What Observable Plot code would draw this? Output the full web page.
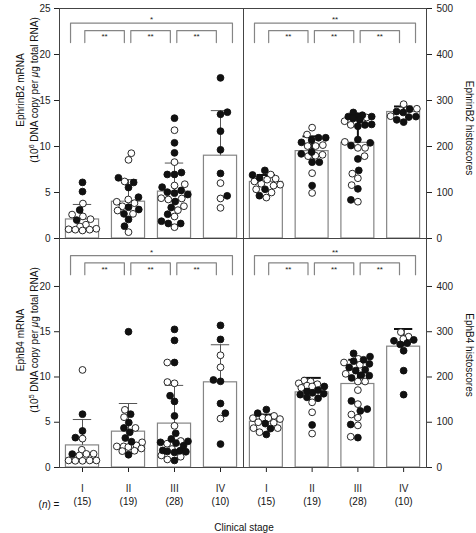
<!DOCTYPE html>
<html><head><meta charset="utf-8">
<script src="https://cdn.jsdelivr.net/npm/d3@7"></script>
<script src="https://cdn.jsdelivr.net/npm/@observablehq/plot@0.6"></script>
<style>
html,body{margin:0;padding:0;background:#fff;}
#chart{position:relative;width:476px;height:533px;font-family:"Liberation Sans",Arial,Helvetica,sans-serif;}
#chart svg{position:absolute;left:0;top:0;overflow:visible;background:transparent;}
</style></head><body><div id="chart"></div>
<script>
// ---------------- data ----------------
const stages = ["I", "II", "III", "IV"];
const counts = [15, 19, 28, 10];
const pairs = [[1, 4], [1, 2], [2, 3], [3, 4]];

// EphrinB2 mRNA (10^6 DNA copy per µg total RNA)
const b2MrnaMean = [2.07, 4.0, 5.1, 9.0];
const b2MrnaErrTop = [3.7, 6.4, 8.2, 13.9];
const b2MrnaFilled = [
  [6.1, 5.1, 3.1, 2.0],
  [6.6, 6.09, 5.54, 4.49, 3.4, 3.15, 2.68, 2.07, 1.34],
  [13.08, 10.4, 9.31, 7.17, 6.96, 6.96, 5.58, 5.22, 5.04, 4.93, 4.78, 4.02, 3.37, 2.64, 1.88, 1.63, 1.63],
  [17.46, 13.73, 13.5, 11.67, 9.64, 7.07, 4.64]
];
const b2MrnaOpen = [
  [3.8, 2.6, 2.4, 2.1, 1.5, 1.3, 1.06, 1.0, 0.96, 0.96, 0.87],
  [9.27, 8.55, 6.2, 4.24, 3.99, 3.84, 3.5, 3.04, 2.68, 0.69],
  [11.77, 8.3, 5.9, 5.76, 4.38, 4.35, 4.24, 3.51, 3.08, 2.39, 1.23],
  [6.02, 4.35, 3.33]
];
const b2MrnaSig = ["*", "**", "**", "**"];

// EphrinB2 histoscores
const b2HistoMean = [123, 190, 208, 275];
const b2HistoErrTop = [138, 222, 266, 287];
const b2HistoFilled = [
  [148, 138, 132, 107, 93],
  [219, 219, 214, 209, 188, 184, 166, 166, 115],
  [274, 268, 266, 265, 265, 261, 258, 248, 247, 244, 215, 208, 202, 173, 148, 108, 84],
  [281, 276, 274, 265, 264, 258, 253]
];
const b2HistoOpen = [
  [139, 130, 128, 124, 119, 117, 115, 107, 100, 89],
  [241, 226, 203, 201, 201, 182, 180, 179, 142, 99],
  [263, 255, 247, 210, 197, 197, 179, 141, 131, 116, 80],
  [292, 282, 266]
];
const b2HistoSig = ["**", "**", "**", "**"];

// EphB4 mRNA (10^5 DNA copy per µg total RNA)
const b4MrnaMean = [2.44, 3.96, 4.85, 9.41];
const b4MrnaErrTop = [5.3, 7.07, 9.07, 13.56];
const b4MrnaFilled = [
  [5.89, 4.04, 3.3, 1.48],
  [15.0, 5.89, 4.96, 4.37, 3.89, 3.26, 2.85, 1.41],
  [15.26, 14.04, 11.6, 7.93, 7.3, 5.7, 3.78, 3.15, 2.89, 2.78, 2.7, 2.41, 1.89, 1.85, 1.78, 1.74, 1.67, 0.78],
  [15.7, 14.15, 9.67, 9.52, 7.07, 6.0, 2.59]
];
const b4MrnaOpen = [
  [10.78, 3.19, 1.96, 1.52, 1.5, 1.33, 0.78, 0.78, 0.78, 0.74, 0.74],
  [6.37, 5.56, 4.37, 2.78, 2.44, 2.33, 2.33, 2.26, 2.1, 1.85, 1.81],
  [11.6, 9.44, 9.3, 4.6, 2.93, 2.63, 2.04, 1.33, 1.19, 0.89],
  [12.4, 11.07, 5.41]
];
const b4MrnaSig = ["*", "**", "**", "**"];

// EphB4 histoscores
const b4HistoMean = [101, 166, 184.5, 267];
const b4HistoErrTop = [117, 198, 238, 306];
const b4HistoFilled = [
  [128, 120, 97, 86, 73],
  [179, 171, 168, 165, 163, 161, 155, 153, 94],
  [252, 245, 238, 235, 229, 221, 216, 214, 204, 203, 198, 147, 129, 125, 95, 66],
  [282, 280, 275, 272, 258, 214, 161]
];
const b4HistoOpen = [
  [114, 110, 109, 109, 107, 100, 99, 87, 87, 78],
  [192, 190, 186, 184, 181, 179, 176, 144, 122, 75],
  [240, 232, 227, 207, 190, 190, 171, 140, 117, 110, 93, 68],
  [299, 289, 284]
];
const b4HistoSig = ["**", "**", "**", "**"];

// ---------------- layout helpers ----------------
const W = 476, H = 533, R = 3.4;
const FONT = '"Liberation Sans", Arial, Helvetica, sans-serif';

// simple beeswarm: pixel offsets so dots of one stage do not overlap
function swarm(vals, pxY, r, maxHalf) {
  const order = d3.range(vals.length).sort((a, b) => vals[a] - vals[b]);
  const placed = [];
  const out = new Array(vals.length);
  let flip = 1;
  for (const i of order) {
    const y = vals[i] * pxY;
    let minD = 2 * r + 0.4, best = 0;
    while (true) {
      const near = placed.filter(p => Math.abs(p.y - y) < minD);
      const cands = [0];
      for (const p of near) {
        const dx = Math.sqrt(minD * minD - (p.y - y) ** 2);
        cands.push(p.x - dx - 0.01, p.x + dx + 0.01);
      }
      const ok = cands.filter(c => near.every(p => (p.x - c) ** 2 + (p.y - y) ** 2 >= minD * minD - 1e-6));
      ok.sort((a, b) => (Math.abs(a) - Math.abs(b)) || flip * (b - a));
      best = ok[0];
      if (Math.abs(best) <= maxHalf || minD < r) break;
      minD -= 0.5;
    }
    placed.push({x: best, y});
    out[i] = best;
    flip = -flip;
  }
  return out;
}

function panel(o) {
  const pxX = (o.right - o.left) / 4;
  const pxY = (o.bottom - o.top) / o.yMax;
  const dots = [];
  for (let s = 0; s < 4; s++) {
    const vals = o.filled[s].concat(o.open[s]);
    const fl = o.filled[s].map(() => true).concat(o.open[s].map(() => false));
    const offs = swarm(vals, pxY, R, 14);
    vals.forEach((v, i) => dots.push({x: s + 1 + offs[i] / pxX, y: v, filled: fl[i]}));
  }
  const bars = stages.map((st, i) => ({i: i + 1, mean: o.mean[i], top: o.errTop[i]}));
  const k = o.unit;
  const br = pairs.map(([a, b], j) => {
    const big = j === 0;
    return {x1: big ? a - 0.26 : a + 0.05, x2: big ? b + 0.26 : b - 0.09,
            top: (big ? 23.4 : 22.6) * k, leg: 21.3 * k, sig: o.sig[j], big};
  });
  const brPts = br.flatMap((d, j) => [
    {j, x: d.x1, y: d.leg}, {j, x: d.x1, y: d.top}, {j, x: d.x2, y: d.top}, {j, x: d.x2, y: d.leg}]);

  const marks = [
    Plot.rectY(bars, {x1: d => d.i - 0.36, x2: d => d.i + 0.36, y1: 0, y2: "mean",
      fill: "white", stroke: "#858585", strokeWidth: 1.2}),
    Plot.ruleX(bars, {x: "i", y1: "mean", y2: "top", stroke: o.errColor, strokeWidth: o.errWidth}),
    Plot.ruleY(bars, {x1: d => d.i - 0.2, x2: d => d.i + 0.2, y: "top", stroke: o.errColor, strokeWidth: o.errWidth}),
    Plot.dot(dots.filter(d => !d.filled), {x: "x", y: "y", r: R, fill: "white", stroke: "#111", strokeWidth: 0.9}),
    Plot.dot(dots.filter(d => d.filled), {x: "x", y: "y", r: R, fill: "#111", stroke: "#111", strokeWidth: 0.9}),
    Plot.line(brPts, {x: "x", y: "y", z: "j", stroke: "#858585", strokeWidth: 1.2}),
    Plot.text(br.filter(d => d.big), {x: d => (d.x1 + d.x2) / 2, y: "top", text: "sig",
      lineAnchor: "bottom", dy: -1, fontSize: 8, fill: "#222"}),
    Plot.text(br.filter(d => !d.big), {x: d => (d.x1 + d.x2) / 2, y: "top", text: "sig",
      lineAnchor: "top", dy: 3, fontSize: 8, fill: "#222"}),
    Plot.frame({stroke: "#444", strokeWidth: 1})
  ];
  if (o.showX) {
    marks.push(Plot.text(stages, {x: (d, i) => i + 1, text: (d, i) => `(${counts[i]})`,
      frameAnchor: "bottom", dy: 37, fontSize: 10, fill: "#111"}));
  }
  const plot = Plot.plot({
    width: W, height: H,
    marginLeft: o.left, marginRight: W - o.right, marginTop: o.top, marginBottom: H - o.bottom,
    style: {background: "transparent", overflow: "visible", fontFamily: FONT, fontSize: "10px", color: "#222"},
    x: {domain: [0.5, 4.5], axis: o.showX ? "bottom" : null, ticks: [1, 2, 3, 4],
        tickFormat: d => stages[d - 1], tickSize: 5, tickPadding: 12, label: null},
    y: {domain: [0, o.yMax], axis: o.axisSide, ticks: o.ticks, tickSize: 5,
        tickPadding: o.axisSide === "left" ? 4 : 5, label: null},
    marks
  });
  document.getElementById("chart").appendChild(plot);
}

const X0 = 59, XM = 243, X1 = 426, Y0 = 8, YM = 238, Y1 = 467;

panel({left: X0, right: XM, top: Y0, bottom: YM, yMax: 25, unit: 1, ticks: [0, 5, 10, 15, 20, 25],
  axisSide: "left", showX: false, mean: b2MrnaMean, errTop: b2MrnaErrTop, filled: b2MrnaFilled,
  open: b2MrnaOpen, sig: b2MrnaSig, errColor: "#555", errWidth: 1});
panel({left: XM, right: X1, top: Y0, bottom: YM, yMax: 500, unit: 20, ticks: [0, 100, 200, 300, 400, 500],
  axisSide: "right", showX: false, mean: b2HistoMean, errTop: b2HistoErrTop, filled: b2HistoFilled,
  open: b2HistoOpen, sig: b2HistoSig, errColor: "#111", errWidth: 2});
panel({left: X0, right: XM, top: YM, bottom: Y1, yMax: 25.3, unit: 1, ticks: [0, 5, 10, 15, 20],
  axisSide: "left", showX: true, mean: b4MrnaMean, errTop: b4MrnaErrTop, filled: b4MrnaFilled,
  open: b4MrnaOpen, sig: b4MrnaSig, errColor: "#555", errWidth: 1});
panel({left: XM, right: X1, top: YM, bottom: Y1, yMax: 506, unit: 20, ticks: [0, 100, 200, 300, 400],
  axisSide: "right", showX: true, mean: b4HistoMean, errTop: b4HistoErrTop, filled: b4HistoFilled,
  open: b4HistoOpen, sig: b4HistoSig, errColor: "#111", errWidth: 2});

// ---------------- titles (rich text) ----------------
const svg = d3.select("#chart").append("svg")
  .attr("width", W).attr("height", H)
  .style("font-family", FONT).style("font-size", "10px").style("fill", "#111");

function yTitle(x, y, rot, parts) {
  const t = svg.append("text").attr("transform", `translate(${x},${y}) rotate(${rot})`)
    .attr("text-anchor", "middle").attr("dy", "0.35em");
  for (const p of parts) {
    const s = t.append("tspan").text(p.t);
    if (p.sup) s.attr("dy", -3.5).style("font-size", "7px");
    if (p.after) s.attr("dy", 3.5);
    if (p.it) s.style("font-style", "italic");
  }
}
yTitle(20, 90, -90, [{t: "EphrinB2 mRNA"}]);
yTitle(34, 90, -90, [{t: "(10"}, {t: "6", sup: true}, {t: " DNA copy per ", after: true}, {t: "\u03bc", it: true}, {t: "g total RNA)"}]);
yTitle(20, 340, -90, [{t: "EphB4 mRNA"}]);
yTitle(34, 340, -90, [{t: "(10"}, {t: "5", sup: true}, {t: " DNA copy per ", after: true}, {t: "\u03bc", it: true}, {t: "g total RNA)"}]);
yTitle(469, 128, 90, [{t: "EphrinB2 histoscores"}]);
yTitle(469, 355, 90, [{t: "EphB4 histoscores"}]);

const nt = svg.append("text").attr("x", 49).attr("y", 504).attr("dy", "0.35em").attr("text-anchor", "middle");
nt.append("tspan").text("(");
nt.append("tspan").text("n").style("font-style", "italic");
nt.append("tspan").text(") =");
svg.append("text").attr("x", 244).attr("y", 527).attr("dy", "0.35em").attr("text-anchor", "middle").text("Clinical stage");
</script></body></html>
